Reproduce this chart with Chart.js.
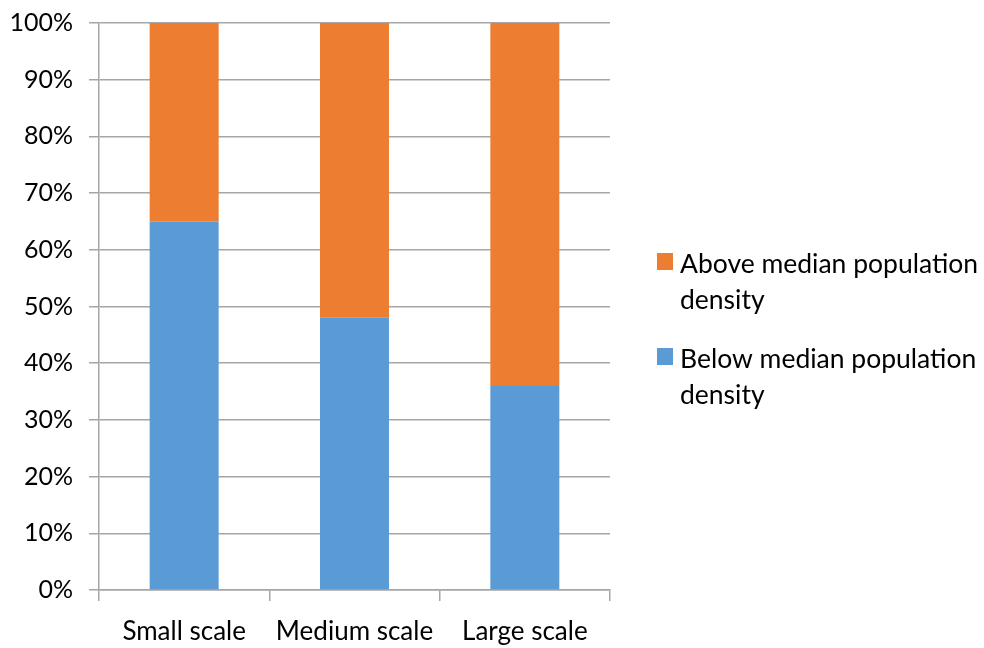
<!DOCTYPE html>
<html>
<head>
<meta charset="utf-8">
<style>
  html, body { margin: 0; padding: 0; background: #ffffff; }
  #wrap { width: 984px; height: 648px; position: relative; }
</style>
<script src="https://cdn.jsdelivr.net/npm/chart.js@4/dist/chart.umd.min.js"></script>
</head>
<body>
<div id="wrap"><canvas id="chart" width="984" height="648"></canvas></div>
<script>
// Share of firms by scale, split by population density of their location
const categories = ['Small scale', 'Medium scale', 'Large scale'];
const belowMedian = [65, 48, 36];
const aboveMedian = [35, 52, 64];
const yTicks = [0, 10, 20, 30, 40, 50, 60, 70, 80, 90, 100];

const seriesNames = ['Below median population density', 'Above median population density'];
const legendLines = [['Below median population', 'density'], ['Above median population', 'density']];

const FONT = 'Lato, "Open Sans", sans-serif';
const GRID = '#a6a6a6';

// Legend drawn beside the plot, with wrapped labels; top entry first
const sideLegend = {
  id: 'sideLegend',
  afterDraw(chart) {
    const ctx = chart.ctx;
    const ds = chart.data.datasets;
    const x0 = 657, box = 16, textX = 680;
    const startY = [253, 348];
    ctx.save();
    ctx.font = '26.5px ' + FONT;
    ctx.textBaseline = 'alphabetic';
    ctx.textAlign = 'left';
    const order = [1, 0];
    order.forEach((di, i) => {
      const y = startY[i];
      ctx.fillStyle = ds[di].backgroundColor;
      ctx.fillRect(x0, y, box, box + 1);
      ctx.fillStyle = '#000000';
      legendLines[di].forEach((line, li) => {
        ctx.fillText(line, textX, y + 20 + li * 36);
      });
    });
    ctx.restore();
  }
};

new Chart(document.getElementById('chart'), {
  type: 'bar',
  data: {
    labels: categories,
    datasets: [
      { label: seriesNames[0], data: belowMedian, backgroundColor: '#5B9BD5' },
      { label: seriesNames[1], data: aboveMedian, backgroundColor: '#ED7D31' }
    ]
  },
  options: {
    responsive: false,
    animation: false,
    layout: { padding: { left: 0, top: 23, right: 374, bottom: 0 } },
    datasets: { bar: { barPercentage: 0.405, categoryPercentage: 1.0 } },
    plugins: { legend: { display: false }, tooltip: { enabled: false } },
    scales: {
      x: {
        stacked: true,
        offset: true,
        grid: { offset: true, drawOnChartArea: false, drawTicks: true, tickLength: 11, color: GRID, lineWidth: 1.5 },
        border: { color: GRID, width: 1.5 },
        ticks: { color: '#000000', font: { family: FONT, size: 26 }, padding: 15, maxRotation: 0 },
        afterFit(s) { s.height = 58; s.paddingLeft = 0; s.paddingRight = 0; }
      },
      y: {
        stacked: true,
        min: 0,
        max: 100,
        afterBuildTicks(s) { s.ticks = yTicks.map(v => ({ value: v })); },
        grid: { color: GRID, tickLength: 10, lineWidth: 1.5 },
        border: { color: GRID, width: 1.5 },
        ticks: { color: '#000000', font: { family: FONT, size: 25 }, padding: 16, callback: v => v + '%' },
        afterFit(s) { s.width = 99; s.paddingTop = 0; s.paddingBottom = 0; }
      }
    }
  },
  plugins: [sideLegend]
});
</script>
</body>
</html>
